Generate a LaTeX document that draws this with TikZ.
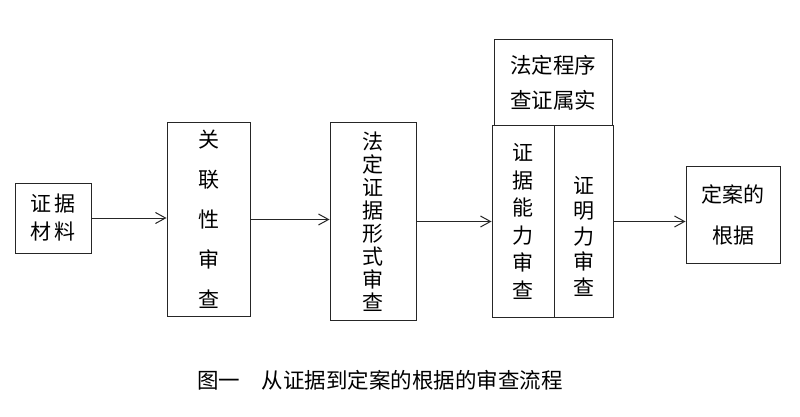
\documentclass[tikz,border=0pt]{standalone}
\usepackage{fontspec}
\newfontfamily\cjk{Noto Sans CJK SC}
\usetikzlibrary{arrows.meta}
\tikzset{
	kuang/.style={draw=black!85, line width=1pt, inner sep=0pt, align=center},
	wenzi/.style={inner sep=0pt, align=center},
	jiantou/.style={draw=black!85, line width=1pt, -{Straight Barb[length=10pt,width=11pt]}}
}

\begin{document}
\begin{tikzpicture}[x=1pt,y=-1pt]
			%%%%% START %%%%%
			\useasboundingbox (0,0) rectangle (800,417);
			
			\node[kuang, minimum width=76pt, minimum height=70pt, font=\cjk\fontsize{21}{28}\selectfont] (cailiao) at (53,218) {证\hspace{4pt}据\\材\hspace{4pt}料};
			
			\node[kuang, minimum width=83pt, minimum height=193pt, font=\cjk\fontsize{21}{40}\selectfont] (guanlian) at (208.5,219.5) {关\\联\\性\\审\\查};
			
			\node[kuang, minimum width=86pt, minimum height=197pt, font=\cjk\fontsize{21}{23}\selectfont] (xingshi) at (373,221.5) {法\\定\\证\\据\\形\\式\\审\\查};
			
			\node[kuang, minimum width=118pt, minimum height=86pt, font=\cjk\fontsize{21.5}{35}\selectfont] (chengxu) at (553,83) {法定程序\\查证属实};
			\node[kuang, minimum width=62pt, minimum height=191pt, font=\cjk\fontsize{21}{27.6}\selectfont] (nengli) at (523,221.5) {证\\据\\能\\力\\审\\查};
			\node[kuang, minimum width=59pt, minimum height=191pt] (mingli) at (583.5,221.5) {};
			\node[wenzi, font=\cjk\fontsize{21}{25.5}\selectfont] (minglizi) at (584,236) {证\\明\\力\\审\\查};
			
			\node[kuang, minimum width=94pt, minimum height=97pt, font=\cjk\fontsize{21}{41}\selectfont] (genju) at (733,214.5) {定案的\\根据};
			
			\draw[jiantou] (cailiao.east) -- (cailiao.east -| guanlian.west);
			\draw[jiantou] (guanlian.east) -- (guanlian.east -| xingshi.west);
			\draw[jiantou] (xingshi.east) -- (xingshi.east -| nengli.west);
			\draw[jiantou] (mingli.east) -- (mingli.east -| genju.west);
			
			\node[wenzi, font=\cjk\fontsize{21.5}{21.5}\selectfont] (tiaomu) at (380,380) {图一\hspace{1em}从证据到定案的根据的审查流程};
			
			%%%%% END %%%%%
		\end{tikzpicture}
\end{document}
